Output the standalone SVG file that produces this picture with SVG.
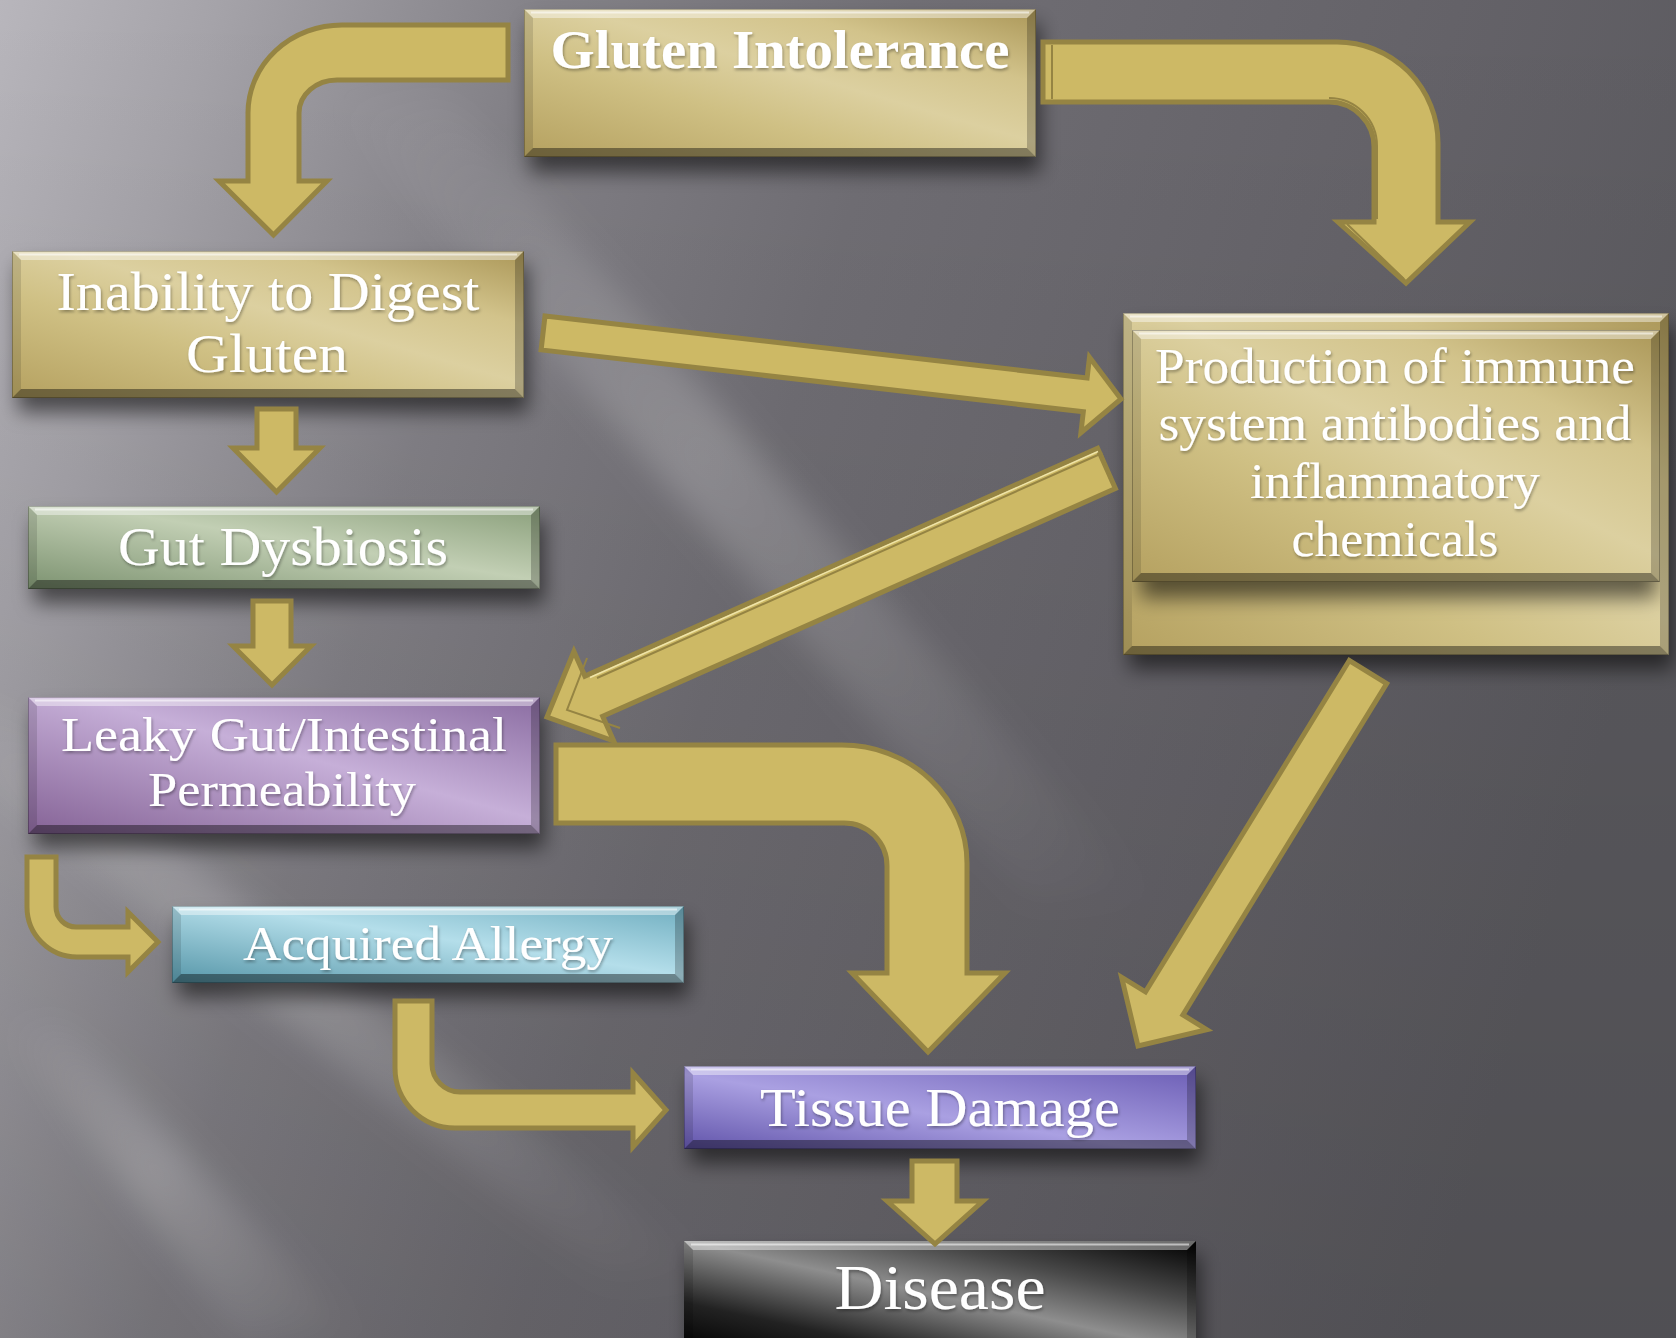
<svg xmlns="http://www.w3.org/2000/svg" width="1676" height="1338" viewBox="0 0 1676 1338">
<defs>
  <!-- backdrop -->
  <linearGradient id="bgLin" gradientUnits="userSpaceOnUse" x1="0" y1="0" x2="1676" y2="500">
    <stop offset="0" stop-color="#b8b6bc"/>
    <stop offset=".12" stop-color="#a5a3a9"/>
    <stop offset=".3" stop-color="#838187"/>
    <stop offset=".5" stop-color="#706e74"/>
    <stop offset=".8" stop-color="#646268"/>
    <stop offset="1" stop-color="#5b5a5f"/>
  </linearGradient>
  <linearGradient id="bgDark" x1="0" y1="0" x2="0" y2="1">
    <stop offset="0" stop-color="#000" stop-opacity="0"/>
    <stop offset="1" stop-color="#000" stop-opacity=".12"/>
  </linearGradient>
  <linearGradient id="beam" x1="0" y1="0" x2="1" y2="1">
    <stop offset="0" stop-color="#fff" stop-opacity="0"/>
    <stop offset=".45" stop-color="#fff" stop-opacity=".2"/>
    <stop offset="1" stop-color="#fff" stop-opacity="0"/>
  </linearGradient>

  <!-- box bodies -->
  <linearGradient id="gold" x1="0" y1="1" x2="1" y2="0">
    <stop offset="0" stop-color="#b5a160"/>
    <stop offset=".35" stop-color="#cfc084"/>
    <stop offset=".55" stop-color="#dcd0a0"/>
    <stop offset=".75" stop-color="#d2c38b"/>
    <stop offset="1" stop-color="#ab9758"/>
  </linearGradient>
  <linearGradient id="green" x1="0" y1="1" x2="1" y2="0">
    <stop offset="0" stop-color="#7c9270"/>
    <stop offset=".55" stop-color="#c2cfb4"/>
    <stop offset="1" stop-color="#8a9f7b"/>
  </linearGradient>
  <linearGradient id="purple" x1="0" y1="1" x2="1" y2="0">
    <stop offset="0" stop-color="#856396"/>
    <stop offset=".55" stop-color="#c6afd8"/>
    <stop offset="1" stop-color="#8a6ca1"/>
  </linearGradient>
  <linearGradient id="cyan" x1="0" y1="1" x2="1" y2="0">
    <stop offset="0" stop-color="#5696a8"/>
    <stop offset=".55" stop-color="#b4deea"/>
    <stop offset="1" stop-color="#70aec0"/>
  </linearGradient>
  <linearGradient id="violet" x1="0" y1="1" x2="1" y2="0">
    <stop offset="0" stop-color="#6154aa"/>
    <stop offset=".45" stop-color="#aaa0e2"/>
    <stop offset="1" stop-color="#6a5cb4"/>
  </linearGradient>
  <linearGradient id="black" x1="0" y1="1" x2="1" y2="0">
    <stop offset="0" stop-color="#000"/>
    <stop offset=".22" stop-color="#222"/>
    <stop offset=".5" stop-color="#8e8e8e"/>
    <stop offset=".72" stop-color="#4a4a4a"/>
    <stop offset="1" stop-color="#000"/>
  </linearGradient>

  <filter id="soft" x="-30%" y="-30%" width="160%" height="160%">
    <feGaussianBlur stdDeviation="16"/>
  </filter>
  <filter id="drop" x="-10%" y="-30%" width="120%" height="180%">
    <feGaussianBlur stdDeviation="10"/>
  </filter>
  <filter id="txt" x="-5%" y="-30%" width="110%" height="160%">
    <feDropShadow dx="1" dy="2" stdDeviation="1.5" flood-color="#000" flood-opacity=".35"/>
  </filter>
  <clipPath id="prodClip">
    <rect x="1132" y="322" width="528" height="324"/>
  </clipPath>

  <style>
    .beam{fill:url(#beam);filter:url(#soft)}
    .shadow{fill:#000;fill-opacity:.55;filter:url(#drop)}
    .face-t{fill:#fff;fill-opacity:.42}
    .face-b{fill:#000;fill-opacity:.4}
    .face-l{fill:#000;fill-opacity:.12}
    .face-r{fill:#000;fill-opacity:.22}
    .hl{stroke:#fff;stroke-opacity:.55;stroke-width:2}
    .edge{fill:none;stroke:#000;stroke-opacity:.25;stroke-width:1}
    .lbl{font-family:"Liberation Serif","Times New Roman",serif;fill:#fff;text-anchor:middle;filter:url(#txt)}
    .arrow{fill:#cdb965;stroke:#958443;stroke-width:5;stroke-linejoin:miter;stroke-miterlimit:10}
    .inner{fill:none;stroke:#958443;stroke-width:2}
    .glint{fill:none;stroke:#efe4a8;stroke-width:1.5}
  </style>
</defs>

<!-- backdrop with soft light rays -->
<g id="backdrop">
  <rect width="1676" height="1338" fill="url(#bgLin)"/>
  <rect width="1676" height="1338" fill="url(#bgDark)"/>
  <polygon class="beam" points="330,100 450,100 1150,900 1030,900"/>
  <polygon class="beam" points="-120,700 -10,700 720,1280 610,1280"/>
  <polygon class="beam" points="0,1020 60,1020 360,1338 240,1338"/>
</g>

<!-- nodes -->
<g id="node-gluten-intolerance">
  <rect class="shadow" x="530" y="24" width="510" height="148"/>
  <rect x="524" y="9" width="512" height="148" fill="url(#gold)"/>
  <polygon class="face-t" points="524,9 1036,9 1027,18 533,18"/>
  <polygon class="face-b" points="524,157 1036,157 1027,148 533,148"/>
  <polygon class="face-l" points="524,9 533,18 533,148 524,157"/>
  <polygon class="face-r" points="1036,9 1027,18 1027,148 1036,157"/>
  <line class="hl" x1="531" y1="12.5" x2="1029" y2="12.5"/>
  <rect class="edge" x="524.5" y="9.5" width="511" height="147"/>
  <text class="lbl" x="780" y="68" font-size="54" font-weight="bold" textLength="459" lengthAdjust="spacingAndGlyphs">Gluten Intolerance</text>
</g>

<g id="node-inability">
  <rect class="shadow" x="18" y="265" width="510" height="147"/>
  <rect x="12" y="251" width="512" height="147" fill="url(#gold)"/>
  <polygon class="face-t" points="12,251 524,251 515,260 21,260"/>
  <polygon class="face-b" points="12,398 524,398 515,389 21,389"/>
  <polygon class="face-l" points="12,251 21,260 21,389 12,398"/>
  <polygon class="face-r" points="524,251 515,260 515,389 524,398"/>
  <line class="hl" x1="19" y1="254.5" x2="517" y2="254.5"/>
  <rect class="edge" x="12.5" y="251.5" width="511" height="146"/>
  <text class="lbl" font-size="54" x="268" y="310" textLength="423" lengthAdjust="spacingAndGlyphs">Inability to Digest</text>
  <text class="lbl" font-size="54" x="267" y="372" textLength="162" lengthAdjust="spacingAndGlyphs">Gluten</text>
</g>

<g id="node-gut-dysbiosis">
  <rect class="shadow" x="34" y="520" width="510" height="83"/>
  <rect x="28" y="506" width="512" height="83" fill="url(#green)"/>
  <polygon class="face-t" points="28,506 540,506 531,515 37,515"/>
  <polygon class="face-b" points="28,589 540,589 531,580 37,580"/>
  <polygon class="face-l" points="28,506 37,515 37,580 28,589"/>
  <polygon class="face-r" points="540,506 531,515 531,580 540,589"/>
  <line class="hl" x1="35" y1="509.5" x2="533" y2="509.5"/>
  <rect class="edge" x="28.5" y="506.5" width="511" height="82"/>
  <text class="lbl" font-size="54" x="283" y="565" textLength="330" lengthAdjust="spacingAndGlyphs">Gut Dysbiosis</text>
</g>

<g id="node-leaky-gut">
  <rect class="shadow" x="34" y="711" width="510" height="137"/>
  <rect x="28" y="697" width="512" height="137" fill="url(#purple)"/>
  <polygon class="face-t" points="28,697 540,697 531,706 37,706"/>
  <polygon class="face-b" points="28,834 540,834 531,825 37,825"/>
  <polygon class="face-l" points="28,697 37,706 37,825 28,834"/>
  <polygon class="face-r" points="540,697 531,706 531,825 540,834"/>
  <line class="hl" x1="35" y1="700.5" x2="533" y2="700.5"/>
  <rect class="edge" x="28.5" y="697.5" width="511" height="136"/>
  <text class="lbl" font-size="48" x="284" y="751" textLength="446" lengthAdjust="spacingAndGlyphs">Leaky Gut/Intestinal</text>
  <text class="lbl" font-size="48" x="282" y="806" textLength="268" lengthAdjust="spacingAndGlyphs">Permeability</text>
</g>

<g id="node-acquired-allergy">
  <rect class="shadow" x="178" y="920" width="510" height="77"/>
  <rect x="172" y="906" width="512" height="77" fill="url(#cyan)"/>
  <polygon class="face-t" points="172,906 684,906 675,915 181,915"/>
  <polygon class="face-b" points="172,983 684,983 675,974 181,974"/>
  <polygon class="face-l" points="172,906 181,915 181,974 172,983"/>
  <polygon class="face-r" points="684,906 675,915 675,974 684,983"/>
  <line class="hl" x1="179" y1="909.5" x2="677" y2="909.5"/>
  <rect class="edge" x="172.5" y="906.5" width="511" height="76"/>
  <text class="lbl" font-size="49" x="428" y="960" textLength="370" lengthAdjust="spacingAndGlyphs">Acquired Allergy</text>
</g>

<g id="node-immune-production">
  <rect class="shadow" x="1129" y="327" width="544" height="342"/>
  <rect x="1123" y="313" width="546" height="342" fill="url(#gold)"/>
  <polygon class="face-t" points="1123,313 1669,313 1660,322 1132,322"/>
  <polygon class="face-b" points="1123,655 1669,655 1660,646 1132,646"/>
  <polygon class="face-l" points="1123,313 1132,322 1132,646 1123,655"/>
  <polygon class="face-r" points="1669,313 1660,322 1660,646 1669,655"/>
  <line class="hl" x1="1130" y1="316.5" x2="1662" y2="316.5"/>
  <rect class="edge" x="1123.5" y="313.5" width="545" height="341"/>
  <rect class="shadow" x="1140" y="346" width="516" height="252" clip-path="url(#prodClip)"/>
  <rect x="1132" y="330" width="528" height="252" fill="url(#gold)"/>
  <polygon class="face-t" points="1132,330 1660,330 1651,339 1141,339"/>
  <polygon class="face-b" points="1132,582 1660,582 1651,573 1141,573"/>
  <polygon class="face-l" points="1132,330 1141,339 1141,573 1132,582"/>
  <polygon class="face-r" points="1660,330 1651,339 1651,573 1660,582"/>
  <line class="hl" x1="1139" y1="333.5" x2="1653" y2="333.5"/>
  <rect class="edge" x="1132.5" y="330.5" width="527" height="251"/>
  <text class="lbl" font-size="50" x="1395" y="383" textLength="480" lengthAdjust="spacingAndGlyphs">Production of immune</text>
  <text class="lbl" font-size="50" x="1395" y="440" textLength="473" lengthAdjust="spacingAndGlyphs">system antibodies and</text>
  <text class="lbl" font-size="50" x="1395" y="498" textLength="290" lengthAdjust="spacingAndGlyphs">inflammatory</text>
  <text class="lbl" font-size="50" x="1395" y="556" textLength="207" lengthAdjust="spacingAndGlyphs">chemicals</text>
</g>

<g id="node-tissue-damage">
  <rect class="shadow" x="690" y="1080" width="510" height="83"/>
  <rect x="684" y="1066" width="512" height="83" fill="url(#violet)"/>
  <polygon class="face-t" points="684,1066 1196,1066 1187,1075 693,1075"/>
  <polygon class="face-b" points="684,1149 1196,1149 1187,1140 693,1140"/>
  <polygon class="face-l" points="684,1066 693,1075 693,1140 684,1149"/>
  <polygon class="face-r" points="1196,1066 1187,1075 1187,1140 1196,1149"/>
  <line class="hl" x1="691" y1="1069.5" x2="1189" y2="1069.5"/>
  <rect class="edge" x="684.5" y="1066.5" width="511" height="82"/>
  <text class="lbl" font-size="54" x="940" y="1126" textLength="360" lengthAdjust="spacingAndGlyphs">Tissue Damage</text>
</g>

<g id="node-disease">
  <rect class="shadow" x="690" y="1255" width="510" height="110"/>
  <rect x="684" y="1241" width="512" height="110" fill="url(#black)"/>
  <polygon class="face-t" points="684,1241 1196,1241 1187,1250 693,1250"/>
  <polygon class="face-l" points="684,1241 693,1250 693,1342 684,1351"/>
  <polygon class="face-r" points="1196,1241 1187,1250 1187,1342 1196,1351"/>
  <line class="hl" x1="691" y1="1244.5" x2="1189" y2="1244.5"/>
  <text class="lbl" font-size="63" x="940" y="1309" textLength="211" lengthAdjust="spacingAndGlyphs">Disease</text>
</g>

<!-- connectors -->
<g id="connectors">
  <path id="c-gluten-inability" class="arrow" d="M508,25 H342 A94,88 0 0 0 248,113 V181 H219 L273.5,235 L327,181 H299 V113 A38,33 0 0 1 337,80 H508 Z"/>
  <g id="c-gluten-production">
    <path class="arrow" d="M1043,42 H1337 A101,101 0 0 1 1438,143 V222 H1470 L1406,283 L1338,222 H1374 V147 A45,45 0 0 0 1329,102 H1043 Z"/>
    <path class="inner" d="M1052,45 V99 M1329,98 A48,48 0 0 1 1377,146 V219 M1347,224 L1404,279"/>
  </g>
  <polygon id="c-inability-production" class="arrow" points="545,316 1087.1,378 1089.5,357.2 1121,399 1080.9,432.7 1083.3,411.8 541.1,349.9"/>
  <g id="c-production-leaky">
    <polygon class="arrow" points="1097.6,448.4 584.9,676.1 573.9,651.4 547,717 613.7,741 602.7,716.3 1115.4,488.6"/>
    <path class="glint" d="M1098,451.5 L590,677.5"/>
    <path class="inner" d="M1099,454.5 L597,678 M587,658 L567,710 L620,728 M1101,452 L1113,484"/>
  </g>
  <path id="c-leaky-tissue" class="arrow" d="M556,745 H842 A125,118 0 0 1 967,863 V973 H1005 L928,1052 L852,973 H887 V866 A43,43 0 0 0 844,823 H556 Z"/>
  <polygon id="c-production-tissue" class="arrow" points="1349.3,660.5 1145.5,991.9 1121.6,977.2 1138,1046 1206.8,1029.6 1182.9,1014.9 1386.7,683.5"/>
  <path id="c-inability-dysbiosis" class="arrow" d="M257,409 H296 V448 H320 L276.5,492 L233,448 H257 Z"/>
  <path id="c-dysbiosis-leaky" class="arrow" d="M253,601 H291 V646 H311 L272,685 L233,646 H253 Z"/>
  <path id="c-leaky-allergy" class="arrow" d="M27,857 H56 V907 A20,20 0 0 0 76,927 H128 V912 L158,942 L128,972 V957 H77 A50,50 0 0 1 27,907 Z"/>
  <path id="c-allergy-tissue" class="arrow" d="M395,1001 H432 V1064 A28,28 0 0 0 460,1092 H633 V1073 L666,1110 L633,1147 V1128 H455 A60,60 0 0 1 395,1068 Z"/>
  <path id="c-tissue-disease" class="arrow" d="M912,1161 H957 V1201 H983 L935,1244 L887,1201 H912 Z"/>
</g>
</svg>
